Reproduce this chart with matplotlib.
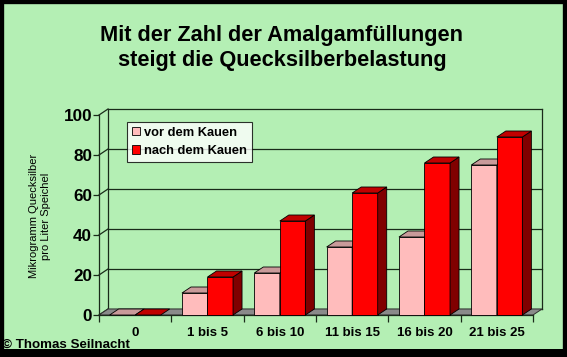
import matplotlib
matplotlib.use("Agg")
import matplotlib.pyplot as plt
from matplotlib.patches import Polygon, Patch, Rectangle

categories = ["0", "1 bis 5", "6 bis 10", "11 bis 15", "16 bis 20", "21 bis 25"]
vor_dem_kauen = [0, 11, 21, 34, 39, 75]
nach_dem_kauen = [0, 19, 47, 61, 76, 89]
series_names = ["vor dem Kauen", "nach dem Kauen"]
yticks = [0, 20, 40, 60, 80, 100]
title = "Mit der Zahl der Amalgamfüllungen\nsteigt die Quecksilberbelastung"
ylabel = "Mikrogramm Quecksilber\npro Liter Speichel"
copyright_text = "© Thomas Seilnacht"

W, H = 567, 357
BG = "#b4efb4"
plt.rcParams['font.family'] = ['Liberation Sans', 'DejaVu Sans']

fig = plt.figure(figsize=(W / 100, H / 100), dpi=100)
fig.patch.set_facecolor(BG)

# black frame around the figure
fig.patches.append(Rectangle((0, 0), 1, 1, transform=fig.transFigure,
                             fill=False, edgecolor="black", linewidth=6, zorder=10))
fig.patches.append(Rectangle((0, 0), 1, 8 / H, transform=fig.transFigure,
                             facecolor="black", edgecolor="none", zorder=10))

# axes covering front plane of the plot
left_px, right_px, zero_px, top_px = 99, 533, 315, 115
ax = fig.add_axes([left_px / W, (H - zero_px) / H, (right_px - left_px) / W, (zero_px - top_px) / H])
ax.set_facecolor("none")
n = len(categories)
ax.set_xlim(0, n)
ax.set_ylim(0, 100)
for s in ["top", "right", "bottom"]:
    ax.spines[s].set_visible(False)
ax.spines["left"].set_color("#1a2a1a")
ax.spines["left"].set_linewidth(0.9)

# depth offset in data units (9 px right, 6 px up)
ddx = 9 / (right_px - left_px) * n
ddy = 6 / (zero_px - top_px) * 100

gcol = "#1a2a1a"
# back wall + left wall gridlines
for v in yticks:
    ax.plot([ddx, n + ddx], [v + ddy, v + ddy], color=gcol, lw=0.9, clip_on=False, zorder=1)
    ax.plot([0, ddx], [v, v + ddy], color=gcol, lw=0.9, clip_on=False, zorder=1)
ax.plot([ddx, ddx], [ddy, 100 + ddy], color=gcol, lw=0.9, clip_on=False, zorder=1)
ax.plot([n + ddx, n + ddx], [ddy, 100 + ddy], color=gcol, lw=0.9, clip_on=False, zorder=1)

# floor
ax.add_patch(Polygon([(0, 0), (n, 0), (n + ddx, ddy), (ddx, ddy)], closed=True,
                     facecolor="#8a8a8a", edgecolor="#303030", lw=0.7, clip_on=False, zorder=2))

bw = 0.353
styles = [
    dict(front="#ffbcbc", top="#c99a9a", side="#a06868"),
    dict(front="#ff0000", top="#c00000", side="#800000"),
]
series = [vor_dem_kauen, nach_dem_kauen]
z = 3
for i in range(n):
    c = i + 0.5
    for k, (vals, st) in enumerate(zip(series, styles)):
        x0 = c - bw + k * bw
        x1 = x0 + bw
        v = vals[i]
        if v > 0:
            ax.bar(x0, v, width=bw, align="edge", color=st["front"], edgecolor="black",
                   linewidth=0.6, zorder=z, clip_on=False)
            ax.add_patch(Polygon([(x1, 0), (x1 + ddx, ddy), (x1 + ddx, v + ddy), (x1, v)],
                                 closed=True, facecolor=st["side"], edgecolor="black",
                                 lw=0.6, clip_on=False, zorder=z))
        ax.add_patch(Polygon([(x0, v), (x1, v), (x1 + ddx, v + ddy), (x0 + ddx, v + ddy)],
                             closed=True, facecolor=st["top"], edgecolor="black",
                             lw=0.6, clip_on=False, zorder=z))
        z += 1

# y axis ticks
ax.set_yticks(yticks)
ax.set_yticklabels([str(t) for t in yticks], fontsize=12.3, fontweight="bold")
ax.tick_params(axis="y", length=4, width=0.9, pad=1, color=gcol)

# x axis: labels at centers, tick marks at boundaries
ax.set_xticks([i + 0.5 for i in range(n)])
ax.set_xticklabels(categories, fontsize=9.5, fontweight="bold")
ax.set_xticks(list(range(n + 1)), minor=True)
ax.tick_params(axis="x", which="major", length=0, pad=9)
ax.tick_params(axis="x", which="minor", length=5, width=0.9, color=gcol)
ax.plot([0, n], [0, 0], color=gcol, lw=0.9, clip_on=False, zorder=2.5)

# legend
handles = [Patch(facecolor=styles[0]["front"], edgecolor="black", linewidth=0.6),
           Patch(facecolor=styles[1]["front"], edgecolor="black", linewidth=0.6)]
leg = fig.legend(handles, series_names, loc="upper left",
                 bbox_to_anchor=(127 / W, 1 - 122 / H), frameon=True, fancybox=False,
                 prop=dict(size=9.3, weight="bold"), handlelength=0.65, handleheight=0.65,
                 handletextpad=0.35, labelspacing=0.5, borderpad=0.35, borderaxespad=0)
leg.get_frame().set_edgecolor("black")
leg.get_frame().set_linewidth(0.8)
leg.get_frame().set_facecolor("white")
leg.set_zorder(20)

# title
fig.text(282 / W, 1 - 48 / H, title, ha="center", va="center", fontsize=15.7,
         fontweight="bold", linespacing=1.2)

# y label
fig.text(40 / W, 1 - 216 / H, ylabel, ha="center", va="center", rotation=90,
         fontsize=8, linespacing=1.25)

# copyright
fig.text(2 / W, 1 - 345 / H, copyright_text, ha="left", va="center", fontsize=9.6,
         fontweight="bold")

fig.savefig("out.png", dpi=100, facecolor=BG)
